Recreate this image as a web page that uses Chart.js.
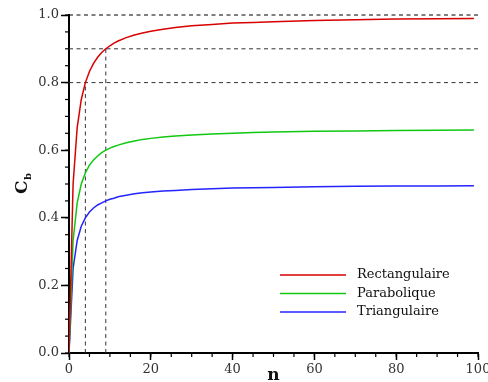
<!DOCTYPE html>
<html>
<head>
<meta charset="utf-8">
<script src="https://cdn.jsdelivr.net/npm/chart.js@4"></script>
<style>
  html, body { margin: 0; padding: 0; background: #fff; }
  #wrap { width: 488px; height: 382px; }
</style>
</head>
<body>
<div id="wrap"><canvas id="cbChart" width="488" height="382"></canvas></div>
<script>
// valeurs
const nValues = [0, 1, 2, 3, 4, 5, 6, 7, 8, 9, 10, 11, 12, 14, 16, 18, 20, 23, 26, 30, 35, 40, 45, 50, 60, 70, 80, 90, 99];
const rectValues = [0, 0.5, 0.667, 0.75, 0.8, 0.833, 0.857, 0.875, 0.889, 0.9, 0.909, 0.917, 0.923, 0.933, 0.941, 0.947, 0.952, 0.958, 0.963, 0.968, 0.972, 0.976, 0.978, 0.980, 0.984, 0.986, 0.988, 0.989, 0.990];
const parabValues = [0, 0.333, 0.444, 0.5, 0.533, 0.556, 0.571, 0.583, 0.593, 0.6, 0.606, 0.611, 0.615, 0.622, 0.627, 0.632, 0.635, 0.639, 0.642, 0.645, 0.648, 0.650, 0.652, 0.654, 0.656, 0.657, 0.658, 0.659, 0.660];
const triValues = [0, 0.25, 0.333, 0.375, 0.4, 0.417, 0.429, 0.438, 0.444, 0.45, 0.455, 0.458, 0.462, 0.467, 0.471, 0.474, 0.476, 0.479, 0.481, 0.484, 0.486, 0.488, 0.489, 0.49, 0.492, 0.493, 0.494, 0.494, 0.495];
const seriesNames = ['Rectangulaire', 'Parabolique', 'Triangulaire'];
const seriesColors = ['#d80000', '#10c810', '#2424ff'];

// lignes de repère (pointillés)
const refLevels = [1.0, 0.9, 0.8];
const refN = [4, 9];
const refNTop = [0.8, 0.9];

const serif = "'DejaVu Serif', serif";

function toPoints(ys) {
    return nValues.map((n, i) => ({ x: n, y: ys[i] }));
}

const curveSets = [rectValues, parabValues, triValues].map((ys, i) => ({
    label: seriesNames[i],
    data: toPoints(ys),
    borderColor: seriesColors[i],
    borderWidth: 1.5,
    pointRadius: 0,
    tension: 0,
    order: 1
}));

const refSets = [];
refLevels.forEach(level => {
    refSets.push({
        label: 'ref',
        data: [{ x: 0, y: level }, { x: 100, y: level }],
        borderColor: level === 1.0 ? '#000' : '#333',
        borderWidth: 1,
        borderDash: [4, 3.5],
        pointRadius: 0,
        clip: 2,
        order: 2
    });
});
refN.forEach((n, i) => {
    refSets.push({
        label: 'ref',
        data: [{ x: n, y: 0 }, { x: n, y: refNTop[i] }],
        borderColor: '#333',
        borderWidth: 1,
        borderDash: [4, 3.5],
        pointRadius: 0,
        order: 2
    });
});

// petites graduations, légende et titres des axes
const extras = {
    id: 'extras',
    afterDraw(chart) {
        const ctx = chart.ctx;
        const a = chart.chartArea;
        const x = chart.scales.x;
        const y = chart.scales.y;
        ctx.save();
        ctx.strokeStyle = '#000';
        ctx.lineWidth = 1.2;
        for (let v = 0; v <= 1.0001; v += 0.05) {
            const py = y.getPixelForValue(v);
            ctx.beginPath();
            ctx.moveTo(a.left - 4, py);
            ctx.lineTo(a.left, py);
            ctx.stroke();
        }
        for (let v = 0; v <= 100; v += 5) {
            const px = x.getPixelForValue(v);
            ctx.beginPath();
            ctx.moveTo(px, a.bottom);
            ctx.lineTo(px, a.bottom + 4);
            ctx.stroke();
        }

        // légende
        ctx.font = '13px ' + serif;
        ctx.textBaseline = 'middle';
        ctx.fillStyle = '#111';
        seriesNames.forEach((name, i) => {
            const ly = a.bottom - 78 + i * 18.5;
            ctx.strokeStyle = seriesColors[i];
            ctx.lineWidth = 1.5;
            ctx.beginPath();
            ctx.moveTo(a.right - 198, ly);
            ctx.lineTo(a.right - 132, ly);
            ctx.stroke();
            ctx.fillText(name, a.right - 121, ly);
        });

        // titre de l'axe x
        ctx.fillStyle = '#111';
        ctx.textBaseline = 'alphabetic';
        ctx.font = 'bold 17px ' + serif;
        ctx.textAlign = 'center';
        ctx.fillText('n', (a.left + a.right) / 2, 380);

        // titre de l'axe y, tourné
        ctx.textAlign = 'left';
        ctx.translate(27, 194);
        ctx.rotate(-Math.PI / 2);
        ctx.font = 'bold 17px ' + serif;
        ctx.fillText('C', 0, 0);
        ctx.font = 'bold 10px ' + serif;
        ctx.fillText('b', 14, 4);
        ctx.restore();
    }
};

function renderChart() {
    const ctx = document.getElementById('cbChart').getContext('2d');
    new Chart(ctx, {
        type: 'line',
        data: { datasets: curveSets.concat(refSets) },
        options: {
            responsive: false,
            animation: false,
            layout: { padding: { left: 0, right: 10, top: 15, bottom: 0 } },
            plugins: {
                legend: { display: false },
                tooltip: { enabled: false }
            },
            scales: {
                x: {
                    type: 'linear',
                    min: 0,
                    max: 100,
                    ticks: {
                        stepSize: 20,
                        padding: 2,
                        color: '#333',
                        font: { family: serif, size: 13 }
                    },
                    grid: {
                        drawOnChartArea: false,
                        tickLength: 7,
                        tickColor: '#000',
                        tickWidth: 1.5
                    },
                    border: { color: '#000', width: 2 },
                    afterFit(scale) {
                        scale.height = 29;
                        scale.paddingLeft = 0;
                        scale.paddingRight = 0;
                    }
                },
                y: {
                    min: 0,
                    max: 1,
                    ticks: {
                        stepSize: 0.2,
                        padding: 2,
                        color: '#333',
                        font: { family: serif, size: 13 },
                        callback: v => v.toFixed(1)
                    },
                    grid: {
                        drawOnChartArea: false,
                        tickLength: 8,
                        tickColor: '#000',
                        tickWidth: 1.5
                    },
                    border: { color: '#000', width: 2 },
                    afterFit(scale) {
                        scale.width = 69;
                        scale.paddingTop = 0;
                        scale.paddingBottom = 0;
                    }
                }
            }
        },
        plugins: [extras]
    });
}

renderChart();
</script>
</body>
</html>
